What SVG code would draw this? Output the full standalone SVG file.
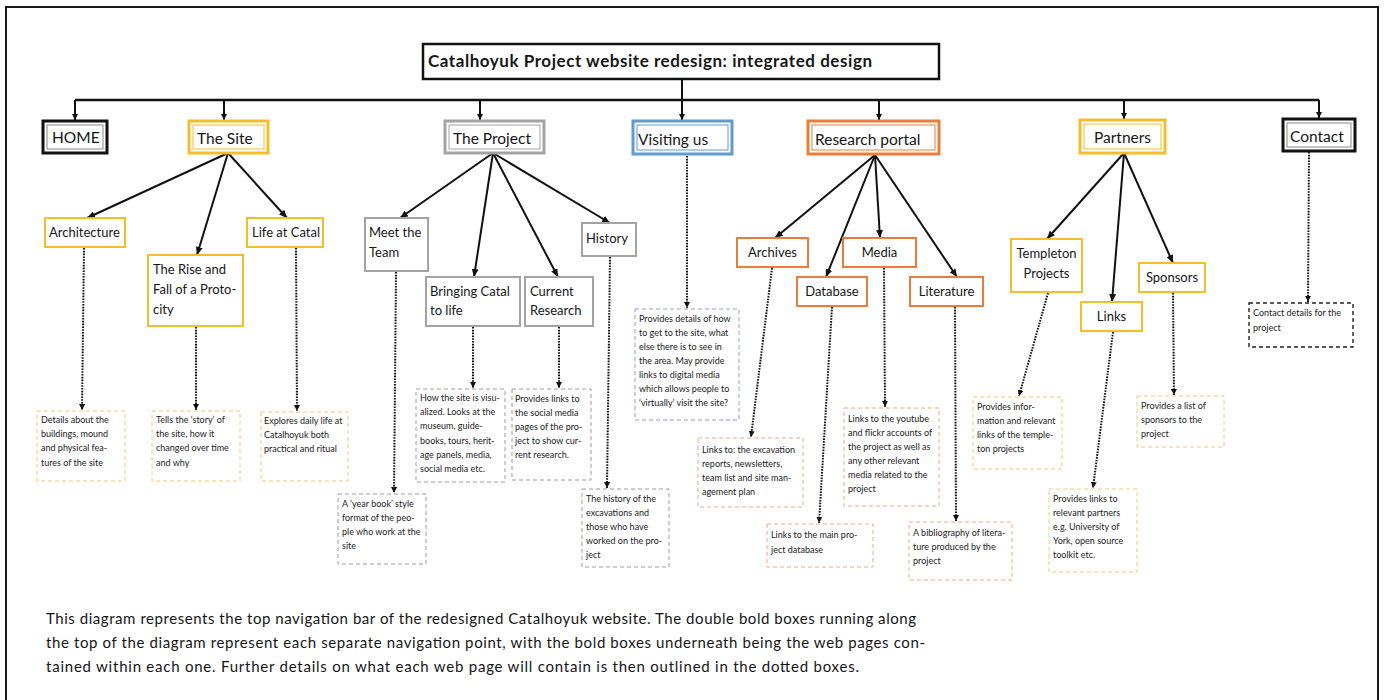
<svg xmlns="http://www.w3.org/2000/svg" width="1384" height="700" viewBox="0 0 1384 700">
  <defs>
    <marker id="arrow" viewBox="0 0 8 7" refX="8" refY="3.5" markerWidth="8" markerHeight="7" markerUnits="userSpaceOnUse" orient="auto">
      <path d="M0,0 L8,3.5 L0,7 z" fill="#111"/>
    </marker>
    <marker id="arrow-sm" viewBox="0 0 6 6" refX="6" refY="3" markerWidth="6" markerHeight="6" markerUnits="userSpaceOnUse" orient="auto">
      <path d="M0,0 L6,3 L0,6 z" fill="#111"/>
    </marker>
    <style>
      text { font-family: Lato, "Liberation Sans", sans-serif; fill: #161616; }
      .title { font-size: 17px; font-weight: bold; }
      .nav { font-size: 15.5px; }
      .sub { font-size: 13px; }
      .desc { font-size: 9px; fill: #222; }
      .cap { font-size: 15px; fill: #161616; }
      .mid { text-anchor: middle; }
      .box-o { fill: #fff; stroke-width: 3; }
      .box-i { fill: none; stroke-width: 1; }
      .pg { fill: #fff; stroke-width: 2; }
      .note { fill: #fff; stroke-width: 1; stroke-dasharray: 4 3; }
      .yel { stroke: #f6bd2b; }
      .gry { stroke: #a3a3a3; }
      .blu { stroke: #5f9ad3; }
      .org { stroke: #ea7d3a; }
      .blk { stroke: #111; }
      .n-yel { stroke: #f3c878; }
      .n-gry { stroke: #9c9c9c; }
      .n-blu { stroke: #8d9dd4; }
      .n-org { stroke: #f0a882; }
      .n-blk { stroke: #222; stroke-width: 1.4; }
      .link { fill: none; stroke: #111; stroke-width: 2; marker-end: url(#arrow); }
      .drop { fill: none; stroke: #111; stroke-width: 2; marker-end: url(#arrow-sm); }
      .dot { fill: none; stroke: #111; stroke-width: 2; stroke-dasharray: 1.6 1.2; marker-end: url(#arrow-sm); }
    </style>
  </defs>

  <rect width="1384" height="700" fill="#fff"/>
  <!-- page frame -->
  <rect x="6" y="7" width="1372" height="700" fill="none" stroke="#1a1a1a" stroke-width="2"/>

  <!-- connectors -->
  <g id="connectors">
    <!-- navigation bus -->
    <path d="M682,79 V100" fill="none" stroke="#111" stroke-width="2"/>
    <path d="M75,100 H1319" fill="none" stroke="#111" stroke-width="2.5"/>
    <path class="drop" d="M75,100 V120"/>
    <path class="drop" d="M224,100 V120"/>
    <path class="drop" d="M480,100 V120"/>
    <path class="drop" d="M682,100 V120"/>
    <path class="drop" d="M879,100 V120"/>
    <path class="drop" d="M1124,100 V119"/>
    <path class="drop" d="M1319,100 V118"/>

    <!-- The Site -->
    <path class="link" d="M228,153 L87,218"/>
    <path class="link" d="M228,153 L197,255"/>
    <path class="link" d="M228,153 L287,218"/>
    <!-- The Project -->
    <path class="link" d="M493,153 L400,218"/>
    <path class="link" d="M493,153 L474,277"/>
    <path class="link" d="M493,153 L558,277"/>
    <path class="link" d="M493,153 L610,223"/>
    <!-- Research portal -->
    <path class="link" d="M875,155 L775,238"/>
    <path class="link" d="M875,155 L826,277"/>
    <path class="link" d="M875,155 L880,238"/>
    <path class="link" d="M875,155 L957,277"/>
    <!-- Partners -->
    <path class="link" d="M1124,153 L1047,239"/>
    <path class="link" d="M1124,153 L1112,302"/>
    <path class="link" d="M1124,153 L1173,263"/>

    <!-- page to content notes -->
    <path class="dot" d="M84,248 L82,410"/>
    <path class="dot" d="M196,327 L196,410"/>
    <path class="dot" d="M296,248 L297,411"/>
    <path class="dot" d="M396,272 L394,493"/>
    <path class="dot" d="M473,327 L473,388"/>
    <path class="dot" d="M559,327 L559,388"/>
    <path class="dot" d="M610,257 L607,488"/>
    <path class="dot" d="M687,156 L687,308"/>
    <path class="dot" d="M772,268 L751,437"/>
    <path class="dot" d="M832,307 L819,523"/>
    <path class="dot" d="M884,268 L885,407"/>
    <path class="dot" d="M955,307 L956,521"/>
    <path class="dot" d="M1048,293 L1019,396"/>
    <path class="dot" d="M1113,332 L1093,488"/>
    <path class="dot" d="M1173,293 L1174,395"/>
    <path class="dot" d="M1309,152 L1308,302"/>
  </g>

  <!-- title -->
  <g id="title">
    <rect x="423" y="44" width="516" height="35" fill="#fff" stroke="#111" stroke-width="2.5"/>
    <text class="title" x="428" y="67" textLength="444">Catalhoyuk Project website redesign: integrated design</text>
  </g>

  <!-- top navigation points -->
  <g id="nav-home">
    <rect class="box-o blk" x="43" y="121" width="64" height="32" stroke-width="3.5"/>
    <rect class="box-i" x="47" y="125" width="56" height="24" stroke="#8a8a8a" stroke-width="2"/>
    <text class="nav" x="52" y="143">HOME</text>
  </g>
  <g id="nav-site">
    <rect class="box-o yel" x="189" y="121" width="79" height="32"/>
    <rect class="box-i yel" x="193" y="125" width="71" height="24"/>
    <text class="nav" x="197" y="144">The Site</text>
  </g>
  <g id="nav-project">
    <rect class="box-o gry" x="445" y="121" width="99" height="32"/>
    <rect class="box-i gry" x="449" y="125" width="91" height="24"/>
    <text class="nav" x="453" y="144">The Project</text>
  </g>
  <g id="nav-visiting">
    <rect class="box-o blu" x="633" y="121" width="99" height="33"/>
    <rect class="box-i blu" x="637" y="125" width="91" height="25"/>
    <text class="nav" x="638" y="145">Visiting us</text>
  </g>
  <g id="nav-research">
    <rect class="box-o org" x="808" y="121" width="131" height="33"/>
    <rect class="box-i org" x="812" y="125" width="123" height="25"/>
    <text class="nav" x="815" y="145">Research portal</text>
  </g>
  <g id="nav-partners">
    <rect class="box-o yel" x="1080" y="120" width="85" height="33"/>
    <rect class="box-i yel" x="1084" y="124" width="77" height="25"/>
    <text class="nav mid" x="1122.5" y="143">Partners</text>
  </g>
  <g id="nav-contact">
    <rect class="box-o blk" x="1283" y="119" width="72" height="32" stroke-width="3.5"/>
    <rect class="box-i" x="1287" y="123" width="64" height="24" stroke="#8a8a8a" stroke-width="2"/>
    <text class="nav" x="1290" y="142">Contact</text>
  </g>

  <!-- The Site pages -->
  <g id="page-architecture">
    <rect class="pg yel" x="45" y="218" width="80" height="29"/>
    <text class="sub" x="49" y="237">Architecture</text>
  </g>
  <g id="page-rise">
    <rect class="pg yel" x="148" y="255" width="95" height="71"/>
    <text class="sub" x="153" y="274">The Rise and</text>
    <text class="sub" x="153" y="294">Fall of a Proto-</text>
    <text class="sub" x="153" y="314">city</text>
  </g>
  <g id="page-life">
    <rect class="pg yel" x="247" y="218" width="76" height="29"/>
    <text class="sub" x="252" y="237">Life at Catal</text>
  </g>

  <!-- The Project pages -->
  <g id="page-team">
    <rect class="pg gry" x="365" y="218" width="63" height="53"/>
    <text class="sub" x="369" y="237">Meet the</text>
    <text class="sub" x="369" y="257">Team</text>
  </g>
  <g id="page-bringing">
    <rect class="pg gry" x="426" y="277" width="94" height="49"/>
    <text class="sub" x="430" y="296">Bringing Catal</text>
    <text class="sub" x="430" y="315">to life</text>
  </g>
  <g id="page-current">
    <rect class="pg gry" x="525" y="277" width="68" height="49"/>
    <text class="sub" x="530" y="296">Current</text>
    <text class="sub" x="530" y="315">Research</text>
  </g>
  <g id="page-history">
    <rect class="pg gry" x="582" y="223" width="54" height="33"/>
    <text class="sub" x="586" y="243">History</text>
  </g>

  <!-- Research portal pages -->
  <g id="page-archives">
    <rect class="pg org" x="737" y="238" width="71" height="29"/>
    <text class="sub mid" x="772.5" y="257">Archives</text>
  </g>
  <g id="page-media">
    <rect class="pg org" x="843" y="238" width="73" height="29"/>
    <text class="sub mid" x="879.5" y="257">Media</text>
  </g>
  <g id="page-database">
    <rect class="pg org" x="797" y="277" width="70" height="29"/>
    <text class="sub mid" x="832" y="296">Database</text>
  </g>
  <g id="page-literature">
    <rect class="pg org" x="910" y="277" width="73" height="29"/>
    <text class="sub mid" x="946.5" y="296">Literature</text>
  </g>

  <!-- Partners pages -->
  <g id="page-templeton">
    <rect class="pg yel" x="1011" y="239" width="71" height="53"/>
    <text class="sub mid" x="1046.5" y="258">Templeton</text>
    <text class="sub mid" x="1046.5" y="278">Projects</text>
  </g>
  <g id="page-links">
    <rect class="pg yel" x="1081" y="302" width="61" height="29"/>
    <text class="sub mid" x="1111.5" y="321">Links</text>
  </g>
  <g id="page-sponsors">
    <rect class="pg yel" x="1139" y="263" width="66" height="29"/>
    <text class="sub mid" x="1172" y="282">Sponsors</text>
  </g>

  <!-- content notes -->
  <g id="note-architecture">
    <rect class="note n-yel" x="37" y="411" width="88" height="70"/>
    <text class="desc" x="41" y="423">Details about the</text>
    <text class="desc" x="41" y="437">buildings, mound</text>
    <text class="desc" x="41" y="451">and physical fea-</text>
    <text class="desc" x="41" y="466">tures of the site</text>
  </g>
  <g id="note-rise">
    <rect class="note n-yel" x="152" y="411" width="88" height="70"/>
    <text class="desc" x="156" y="423">Tells the ‘story’ of</text>
    <text class="desc" x="156" y="437">the site, how it</text>
    <text class="desc" x="156" y="451">changed over time</text>
    <text class="desc" x="156" y="466">and why</text>
  </g>
  <g id="note-life">
    <rect class="note n-yel" x="261" y="412" width="87" height="69"/>
    <text class="desc" x="264" y="424">Explores daily life at</text>
    <text class="desc" x="264" y="438">Catalhoyuk both</text>
    <text class="desc" x="264" y="452">practical and ritual</text>
  </g>
  <g id="note-team">
    <rect class="note n-gry" x="338" y="494" width="88" height="70"/>
    <text class="desc" x="342" y="507">A ‘year book’ style</text>
    <text class="desc" x="342" y="521">format of the peo-</text>
    <text class="desc" x="342" y="535">ple who work at the</text>
    <text class="desc" x="342" y="549">site</text>
  </g>
  <g id="note-bringing">
    <rect class="note n-gry" x="416" y="389" width="89" height="93"/>
    <text class="desc" x="420" y="401">How the site is visu-</text>
    <text class="desc" x="420" y="415">alized. Looks at the</text>
    <text class="desc" x="420" y="429">museum, guide-</text>
    <text class="desc" x="420" y="444">books, tours, herit-</text>
    <text class="desc" x="420" y="458">age panels, media,</text>
    <text class="desc" x="420" y="472">social media etc.</text>
  </g>
  <g id="note-current">
    <rect class="note n-gry" x="512" y="389" width="79" height="91"/>
    <text class="desc" x="515" y="402">Provides links to</text>
    <text class="desc" x="515" y="416">the social media</text>
    <text class="desc" x="515" y="430">pages of the pro-</text>
    <text class="desc" x="515" y="444">ject to show cur-</text>
    <text class="desc" x="515" y="458">rent research.</text>
  </g>
  <g id="note-history">
    <rect class="note n-gry" x="582" y="489" width="87" height="78"/>
    <text class="desc" x="586" y="502">The history of the</text>
    <text class="desc" x="586" y="516">excavations and</text>
    <text class="desc" x="586" y="530">those who have</text>
    <text class="desc" x="586" y="544">worked on the pro-</text>
    <text class="desc" x="586" y="558">ject</text>
  </g>
  <g id="note-visiting">
    <rect class="note n-blu" x="635" y="309" width="104" height="111"/>
    <text class="desc" x="639" y="322">Provides details of how</text>
    <text class="desc" x="639" y="336">to get to the site, what</text>
    <text class="desc" x="639" y="350">else there is to see in</text>
    <text class="desc" x="639" y="364">the area. May provide</text>
    <text class="desc" x="639" y="378">links to digital media</text>
    <text class="desc" x="639" y="392">which allows people to</text>
    <text class="desc" x="639" y="406">‘virtually’ visit the site?</text>
  </g>
  <g id="note-archives">
    <rect class="note n-org" x="698" y="438" width="105" height="69"/>
    <text class="desc" x="702" y="453">Links to: the excavation</text>
    <text class="desc" x="702" y="467">reports, newsletters,</text>
    <text class="desc" x="702" y="481">team list and site man-</text>
    <text class="desc" x="702" y="495">agement plan</text>
  </g>
  <g id="note-database">
    <rect class="note n-org" x="767" y="524" width="106" height="43"/>
    <text class="desc" x="771" y="538">Links to the main pro-</text>
    <text class="desc" x="771" y="553">ject database</text>
  </g>
  <g id="note-media">
    <rect class="note n-org" x="844" y="408" width="95" height="98"/>
    <text class="desc" x="848" y="422">Links to the youtube</text>
    <text class="desc" x="848" y="436">and flickr accounts of</text>
    <text class="desc" x="848" y="450">the project as well as</text>
    <text class="desc" x="848" y="464">any other relevant</text>
    <text class="desc" x="848" y="478">media related to the</text>
    <text class="desc" x="848" y="492">project</text>
  </g>
  <g id="note-literature">
    <rect class="note n-org" x="909" y="522" width="103" height="58"/>
    <text class="desc" x="913" y="536">A bibliography of litera-</text>
    <text class="desc" x="913" y="550">ture produced by the</text>
    <text class="desc" x="913" y="564">project</text>
  </g>
  <g id="note-templeton">
    <rect class="note n-yel" x="973" y="397" width="89" height="72"/>
    <text class="desc" x="977" y="410">Provides infor-</text>
    <text class="desc" x="977" y="424">mation and relevant</text>
    <text class="desc" x="977" y="438">links of the temple-</text>
    <text class="desc" x="977" y="452">ton projects</text>
  </g>
  <g id="note-links">
    <rect class="note n-yel" x="1049" y="489" width="88" height="83"/>
    <text class="desc" x="1053" y="502">Provides links to</text>
    <text class="desc" x="1053" y="516">relevant partners</text>
    <text class="desc" x="1053" y="530">e.g. University of</text>
    <text class="desc" x="1053" y="544">York, open source</text>
    <text class="desc" x="1053" y="558">toolkit etc.</text>
  </g>
  <g id="note-sponsors">
    <rect class="note n-yel" x="1137" y="396" width="87" height="51"/>
    <text class="desc" x="1141" y="409">Provides a list of</text>
    <text class="desc" x="1141" y="423">sponsors to the</text>
    <text class="desc" x="1141" y="437">project</text>
  </g>
  <g id="note-contact">
    <rect class="note n-blk" x="1249" y="303" width="104" height="44"/>
    <text class="desc" x="1253" y="316">Contact details for the</text>
    <text class="desc" x="1253" y="331">project</text>
  </g>

  <!-- caption -->
  <g id="caption">
    <text class="cap" x="46" y="624" textLength="870">This diagram represents the top navigation bar of the redesigned Catalhoyuk website. The double bold boxes running along</text>
    <text class="cap" x="46" y="648" textLength="879">the top of the diagram represent each separate navigation point, with the bold boxes underneath being the web pages con-</text>
    <text class="cap" x="46" y="672" textLength="813">tained within each one. Further details on what each web page will contain is then outlined in the dotted boxes.</text>
  </g>
</svg>
